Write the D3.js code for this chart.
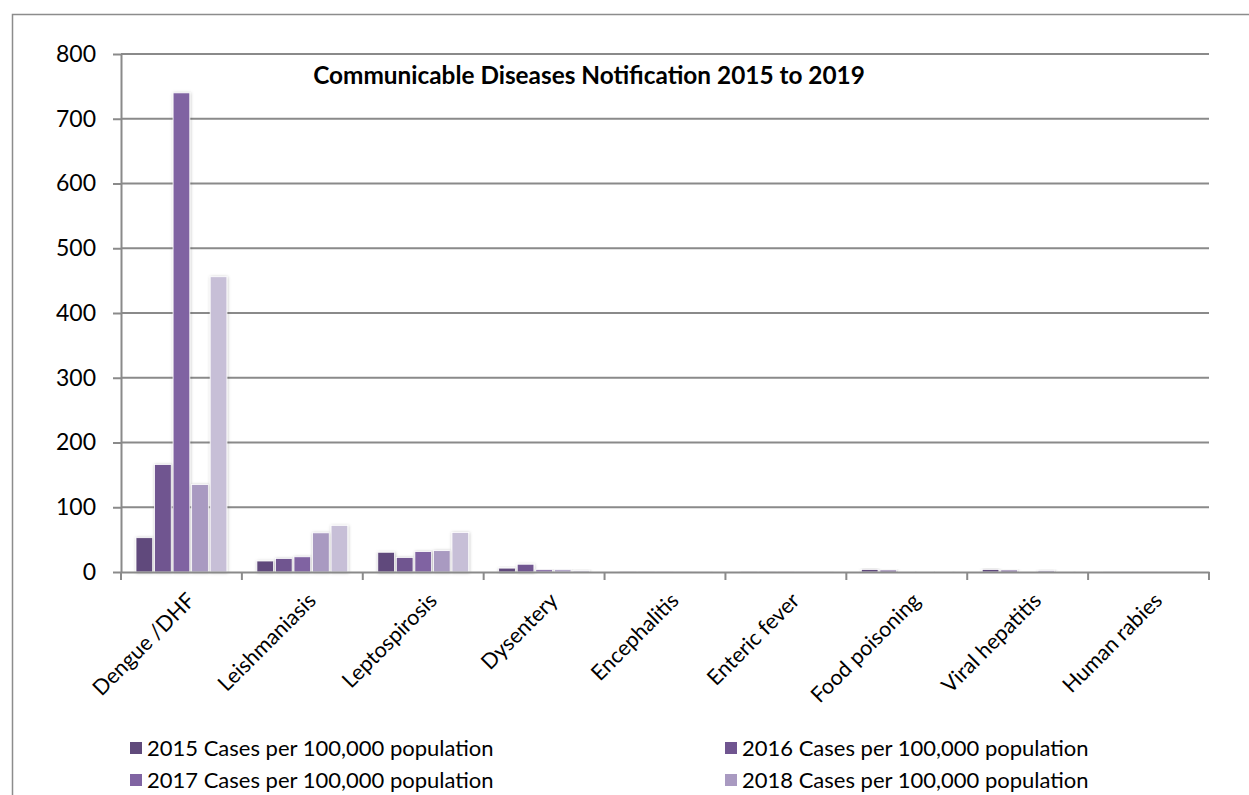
<!DOCTYPE html>
<html>
<head>
<meta charset="utf-8">
<script src="https://cdn.jsdelivr.net/npm/d3@7"></script>
<style>
  html, body { margin: 0; padding: 0; background: #fff; }
  svg { display: block; font-family: Lato, "Open Sans", sans-serif; }
</style>
</head>
<body>
<svg id="chart" width="1249" height="795"></svg>
<script>
// ---- data ----
const categories = ["Dengue /DHF", "Leishmaniasis", "Leptospirosis", "Dysentery", "Encephalitis",
                    "Enteric fever", "Food poisoning", "Viral hepatitis", "Human rabies"];
const years = ["2015", "2016", "2017", "2018", "2019"];
const v2015 = [53, 17, 30.5, 6, 0.5, 0.3, 4, 4, 0.1];
const v2016 = [166, 21, 22.5, 12, 0.5, 0.3, 3, 3, 0.1];
const v2017 = [740, 23.5, 31.5, 3.5, 0.5, 0.3, 1, 1, 0.1];
const v2018 = [135, 60.5, 33, 3.5, 0.5, 0.3, 1, 2.5, 0.1];
const v2019 = [456, 72, 61, 2.5, 0.3, 0.3, 1, 1, 0.1];
const yTicks = [0, 100, 200, 300, 400, 500, 600, 700, 800];
// only the four legend entries that are visible in the (cropped) chart
const legendLabels = ["2015 Cases per 100,000 population", "2016 Cases per 100,000 population",
                      "2017 Cases per 100,000 population", "2018 Cases per 100,000 population"];
const titleText = "Communicable Diseases Notification 2015 to 2019";
const colors = ["#604a7b", "#705590", "#8064a2", "#a99ac1", "#c7bfd7"];

const seriesValues = [v2015, v2016, v2017, v2018, v2019];

(function () {
// ---- layout ----
const svg = d3.select("#chart");
const pLeft = 121, pRight = 1209, pTop = 54, pBottom = 572;
const gridColor = "#8a8a8a";

const defs = svg.append("defs");
const f = defs.append("filter").attr("id", "glow").attr("x", "-30%").attr("y", "-30%").attr("width", "160%").attr("height", "160%");
f.append("feDropShadow").attr("dx", 0.5).attr("dy", 0.5).attr("stdDeviation", 1.4)
  .attr("flood-color", "#000").attr("flood-opacity", 0.28);

// outer border
svg.append("rect").attr("x", 12.5).attr("y", 14.5).attr("width", 1400).attr("height", 1000)
  .attr("fill", "none").attr("stroke", "#8c8c8c").attr("stroke-width", 1.5);

const x = d3.scaleBand().domain(categories).range([pLeft, pRight]).padding(0);
const xs = d3.scaleBand().domain(years).range([15, x.bandwidth() - 15]).paddingInner(0.1).paddingOuter(0);
const y = d3.scaleLinear().domain([0, 800]).range([pBottom, pTop]);

// gridlines
svg.append("g").selectAll("line").data(yTicks.filter(d => d > 0)).join("line")
  .attr("x1", pLeft).attr("x2", pRight)
  .attr("y1", d => y(d)).attr("y2", d => y(d))
  .attr("stroke", gridColor).attr("stroke-width", 2);

// bars
const groups = svg.append("g").selectAll("g").data(years).join("g")
  .attr("fill", (d, i) => colors[i]);
groups.selectAll("rect")
  .data((yr, i) => categories.map((c, j) => ({ c, yr, v: seriesValues[i][j] })))
  .join("rect")
  .attr("x", d => x(d.c) + xs(d.yr))
  .attr("width", xs.bandwidth())
  .attr("y", d => y(d.v))
  .attr("height", d => y(0) - y(d.v))
  .attr("stroke", "#fff").attr("stroke-width", 0.8)
  .attr("filter", "url(#glow)");

// y axis
const yAxis = d3.axisLeft(y).tickValues(yTicks).tickSize(8).tickPadding(17).tickSizeOuter(0);
const gy = svg.append("g").attr("transform", `translate(${pLeft},0)`).call(yAxis);
gy.select(".domain").attr("stroke", gridColor).attr("stroke-width", 2);
gy.selectAll(".tick line").attr("stroke", gridColor).attr("stroke-width", 2);
gy.selectAll(".tick text").attr("font-size", 23).attr("fill", "#000")
  .attr("font-family", "Lato, sans-serif");

// x axis
const xAxis = d3.axisBottom(x).tickSize(0).tickSizeOuter(0).tickFormat("");
const gx = svg.append("g").attr("transform", `translate(0,${pBottom})`).call(xAxis);
gx.select(".domain").attr("stroke", gridColor).attr("stroke-width", 2);
const boundaries = categories.map(c => x(c)).concat([x(categories[categories.length - 1]) + x.bandwidth()]);
gx.append("g").selectAll("line").data(boundaries).join("line")
  .attr("x1", d => d).attr("x2", d => d).attr("y1", 0).attr("y2", 8)
  .attr("stroke", gridColor).attr("stroke-width", 2);

svg.append("g").selectAll("text").data(categories).join("text")
  .attr("transform", d => `translate(${x(d) + x.bandwidth() / 2 + 15},${pBottom + 30}) rotate(-45)`)
  .attr("text-anchor", "end")
  .attr("font-size", 21.5)
  .attr("fill", "#000")
  .text(d => d);

// title
const title = svg.append("text").attr("x", 589).attr("y", 84).attr("text-anchor", "middle")
  .attr("font-weight", "bold").attr("font-size", 20).attr("fill", "#000").text(titleText);
const tw = title.node().getComputedTextLength();
title.attr("font-size", 20 * 552 / tw);

// legend
const legendPos = [
  { x: 130, y: 748 }, { x: 725, y: 748 },
  { x: 130, y: 780 }, { x: 725, y: 780 }
];
const lg = svg.append("g").selectAll("g").data(legendLabels).join("g")
  .attr("transform", (d, i) => `translate(${legendPos[i].x},${legendPos[i].y})`);
lg.append("rect").attr("x", 0).attr("y", -6).attr("width", 12).attr("height", 12)
  .attr("fill", (d, i) => colors[i]);
lg.append("text").attr("x", 17).attr("dy", "0.35em").attr("font-size", 22)
  .attr("fill", "#000").text(d => d);
})();
</script>
</body>
</html>
